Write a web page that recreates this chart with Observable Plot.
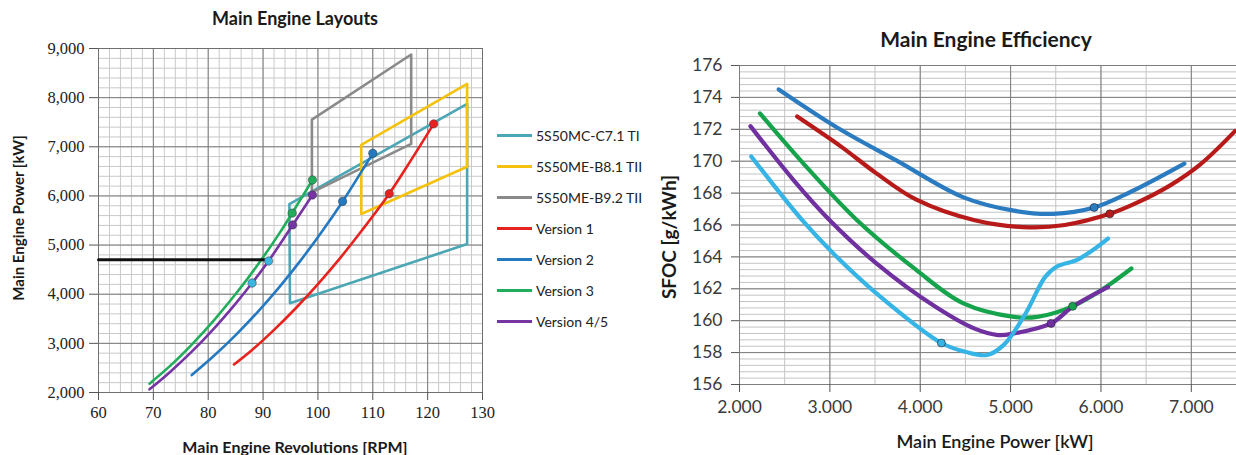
<!DOCTYPE html>
<html>
<head>
<meta charset="utf-8">
<script src="https://cdn.jsdelivr.net/npm/d3@7"></script>
<script src="https://cdn.jsdelivr.net/npm/@observablehq/plot@0.6"></script>
<style>
  html, body { margin: 0; padding: 0; background: #fff; }
  #wrap { position: relative; width: 1236px; height: 455px; overflow: hidden; background: #fff; }
  #wrap svg { position: absolute; top: 0; }
  .t { position: absolute; white-space: nowrap; color: #1a1a1a; font-family: Lato, "Open Sans", sans-serif; }
  .legend { position: absolute; left: 497px; top: 0; font-family: Lato, sans-serif; font-size: 14px; color: #222; }
  .legend .row { position: absolute; left: 0; display: flex; align-items: center; white-space: nowrap; }
  .legend .sw { width: 35px; height: 3px; margin-right: 4px; }
</style>
</head>
<body>
<div id="wrap"></div>
<script>
// ---------- Left chart: Main Engine Layouts ----------
const leftTitle = "Main Engine Layouts";
const leftXLabel = "Main Engine Revolutions [RPM]";
const leftYLabel = "Main Engine Power [kW]";
const rpmTicks = [60, 70, 80, 90, 100, 110, 120, 130];
const kwTicks = [2000, 3000, 4000, 5000, 6000, 7000, 8000, 9000];

const layoutNames = ["5S50MC-C7.1 TI", "5S50ME-B8.1 TII", "5S50ME-B9.2 TII", "Version 1", "Version 2", "Version 3", "Version 4/5"];
const layoutColors = ["#4ba6b6", "#f4c20d", "#8a8a8a", "#e8231f", "#2479c0", "#22ad5c", "#7535a2"];

// engine layout diagrams (rpm, kW)
const mcC71Rpm = [94.8, 127.2, 127.2, 94.9, 94.8];
const mcC71Kw  = [5835, 7873, 5020, 3818, 5835];
const meB81Rpm = [107.9, 127.2, 127.2, 107.9, 107.9];
const meB81Kw  = [7037, 8281, 6595, 5632, 7037];
const meB92Rpm = [98.9, 98.9, 117, 117, 98.9];
const meB92Kw  = [6071, 7553, 8878, 7058, 6071];

// propeller curves (rpm, kW)
const v1Rpm = [84.7, 88, 92, 96, 100, 104, 108, 113, 117, 121.1];
const v1Kw  = [2570, 2865, 3274, 3719, 4204, 4729, 5296, 6045, 6733, 7466];
const v2Rpm = [77, 81, 85, 89, 93, 97, 101, 104.5, 110];
const v2Kw  = [2355, 2742, 3168, 3637, 4150, 4709, 5316, 5888, 6867];
const v3Rpm = [69.3, 73, 77, 81, 85, 89, 93, 95.3, 99];
const v3Kw  = [2180, 2536, 2976, 3464, 4003, 4595, 5243, 5650, 6324];
const v45Rpm = [69.3, 73, 77, 81, 85, 88, 91, 95.4, 99];
const v45Kw  = [2065, 2414, 2832, 3297, 3810, 4227, 4675, 5410, 6019];

// required power line
const reqRpm = [60, 90.6];
const reqKw  = [4700, 4700];

// markers on the left chart
const markRpm = [113, 121.1, 104.5, 110, 95.3, 99, 95.4, 99, 88, 91];
const markKw  = [6045, 7466, 5888, 6867, 5650, 6324, 5410, 6019, 4227, 4675];
const markFill = ["#e8231f", "#e8231f", "#2479c0", "#2479c0", "#22ad5c", "#22ad5c", "#7535a2", "#7535a2", "#3db5e2", "#3db5e2"];

// ---------- Right chart: Main Engine Efficiency ----------
const rightTitle = "Main Engine Efficiency";
const rightXLabel = "Main Engine Power [kW]";
const rightYLabel = "SFOC [g/kWh]";
const powerTicks = [2000, 3000, 4000, 5000, 6000, 7000];
const sfocTicks = [156, 158, 160, 162, 164, 166, 168, 170, 172, 174, 176];

const cyanKw   = [2130, 2694, 3041, 3518, 4234, 4500, 4740, 4927, 5166, 5383, 5513, 5730, 5903, 6077];
const cyanSfoc = [170.3, 166.3, 164.2, 161.7, 158.6, 158.05, 157.85, 158.5, 160.45, 162.75, 163.4, 163.8, 164.4, 165.15];
const purpleKw   = [2121, 2600, 2998, 3518, 4169, 4602, 4862, 5036, 5448, 5686, 6077];
const purpleSfoc = [172.2, 168.8, 166.3, 163.58, 160.87, 159.5, 159.1, 159.2, 159.83, 160.87, 162.1];
const greenKw   = [2226, 2700, 3301, 3952, 4472, 5036, 5296, 5686, 6000, 6337];
const greenSfoc = [173.0, 169.9, 166.3, 163.2, 161.1, 160.24, 160.24, 160.9, 161.9, 163.27];
const blueKw   = [2434, 3084, 3735, 4472, 5036, 5470, 5925, 6337, 6923];
const blueSfoc = [174.5, 172.1, 170.05, 167.75, 166.9, 166.7, 167.1, 168.1, 169.85];
const redKw   = [2638, 3128, 3500, 3952, 4602, 5209, 5600, 6098, 6400, 6771, 7100, 7486];
const redSfoc = [172.8, 170.9, 169.3, 167.6, 166.3, 165.85, 166.0, 166.7, 167.4, 168.5, 169.8, 171.9];

const effMarkKw   = [4234, 5448, 5686, 5925, 6098];
const effMarkSfoc = [158.6, 159.83, 160.9, 167.1, 166.7];
const effMarkFill = ["#35b4e5", "#7030a0", "#15a34c", "#2a7bc0", "#b81a1a"];
const effColors = { cyan: "#35b4e5", purple: "#7030a0", green: "#15a34c", blue: "#2a7bc0", red: "#b81a1a" };

// ---------- build ----------
const zip = (xs, ys) => xs.map((x, i) => ({x, y: ys[i]}));
const wrap = document.getElementById("wrap");

const leftSeries = [
  {d: zip(mcC71Rpm, mcC71Kw), c: layoutColors[0], curve: "linear"},
  {d: zip(meB92Rpm, meB92Kw), c: layoutColors[2], curve: "linear"},
  {d: zip(meB81Rpm, meB81Kw), c: layoutColors[1], curve: "linear"},
  {d: zip(v2Rpm, v2Kw), c: layoutColors[4], curve: "catmull-rom"},
  {d: zip(v1Rpm, v1Kw), c: layoutColors[3], curve: "catmull-rom"},
  {d: zip(v45Rpm, v45Kw), c: layoutColors[6], curve: "catmull-rom"},
  {d: zip(v3Rpm, v3Kw), c: layoutColors[5], curve: "catmull-rom"}
];
const leftMarks = markRpm.map((x, i) => ({x, y: markKw[i], f: markFill[i]}));
const serif = "'Liberation Serif', 'DejaVu Serif', serif";

const left = Plot.plot({
  width: 505, height: 455,
  marginLeft: 98, marginRight: 23, marginTop: 48, marginBottom: 63,
  x: {domain: [60, 130]},
  y: {domain: [2000, 9000]},
  style: {fontFamily: serif, fontSize: "16px", color: "#222", background: "transparent"},
  marks: [
    Plot.ruleX(d3.range(60, 131, 2), {stroke: "#c9c9c9", strokeWidth: 1}),
    Plot.ruleY(d3.range(2000, 9001, 200), {stroke: "#c9c9c9", strokeWidth: 1}),
    Plot.ruleX(rpmTicks, {stroke: "#7d7d7d", strokeWidth: 1}),
    Plot.ruleY(kwTicks, {stroke: "#7d7d7d", strokeWidth: 1}),
    Plot.frame({stroke: "#6f6f6f"}),
    Plot.axisX({ticks: rpmTicks, tickSize: 8, tickPadding: 6, label: null, stroke: "#555", fontFamily: serif, fontSize: 16.5}),
    Plot.axisY({ticks: kwTicks, tickFormat: d3.format(","), tickSize: 9, tickPadding: 5, label: null, stroke: "#555", fontFamily: serif, fontSize: 16.5}),
    ...leftSeries.map(s => Plot.line(s.d, {x: "x", y: "y", stroke: s.c, strokeWidth: 2.6, curve: s.curve, strokeLinejoin: "round"})),
    Plot.line(zip(reqRpm, reqKw), {x: "x", y: "y", stroke: "#111", strokeWidth: 3}),
    Plot.dot(leftMarks, {x: "x", y: "y", fill: "f", stroke: "#333", strokeOpacity: 0.5, strokeWidth: 1, r: 4.2})
  ]
});
left.style.left = "0px";
wrap.appendChild(left);

const rightSeries = [
  {d: zip(redKw, redSfoc), c: effColors.red},
  {d: zip(blueKw, blueSfoc), c: effColors.blue},
  {d: zip(greenKw, greenSfoc), c: effColors.green},
  {d: zip(purpleKw, purpleSfoc), c: effColors.purple},
  {d: zip(cyanKw, cyanSfoc), c: effColors.cyan}
];
const rightMarks = effMarkKw.map((x, i) => ({x, y: effMarkSfoc[i], f: effMarkFill[i]}));
const sans = "Lato, 'Open Sans', sans-serif";

const right = Plot.plot({
  width: 596, height: 455,
  marginLeft: 99, marginRight: 0, marginTop: 65, marginBottom: 71,
  x: {domain: [2000, 7500]},
  y: {domain: [156, 176]},
  style: {fontFamily: sans, fontSize: "17px", color: "#3a3a3a", background: "transparent"},
  marks: [
    Plot.ruleX(d3.range(2000, 7501, 500), {stroke: "#c4c4c4", strokeWidth: 1}),
    Plot.ruleY(d3.range(156, 176.01, 0.4), {stroke: "#c4c4c4", strokeWidth: 1}),
    Plot.ruleX(powerTicks, {stroke: "#7d7d7d", strokeWidth: 1}),
    Plot.ruleY(sfocTicks, {stroke: "#7d7d7d", strokeWidth: 1}),
    Plot.axisX({ticks: powerTicks, tickFormat: d => d3.format(",")(d).replace(",", "."), tickSize: 8, tickPadding: 8, label: null, stroke: "#555", fontFamily: sans, fontSize: 17.5}),
    Plot.axisY({ticks: sfocTicks, tickSize: 8, tickPadding: 9, label: null, stroke: "#555", fontFamily: sans, fontSize: 17.5}),
    ...rightSeries.map(s => Plot.line(s.d, {x: "x", y: "y", stroke: s.c, strokeWidth: 4.2, curve: "catmull-rom", strokeLinecap: "round", clip: true})),
    Plot.dot(rightMarks, {x: "x", y: "y", fill: "f", stroke: "#223", strokeOpacity: 0.6, strokeWidth: 1, r: 4})
  ]
});
right.style.left = "640px";
wrap.appendChild(right);

// ---------- texts ----------
function text(str, css) {
  const el = document.createElement("div");
  el.className = "t";
  el.textContent = str;
  Object.assign(el.style, css);
  wrap.appendChild(el);
  return el;
}
text(leftTitle, {left: "295px", top: "18px", transform: "translate(-50%,-50%)", fontSize: "18px", fontWeight: "700"});
text(leftXLabel, {left: "295px", top: "446px", transform: "translate(-50%,-50%)", fontSize: "16px", fontWeight: "700"});
text(leftYLabel, {left: "18px", top: "218px", transform: "translate(-50%,-50%) rotate(-90deg)", fontSize: "15px", fontWeight: "700"});
text(rightTitle, {left: "986px", top: "38px", transform: "translate(-50%,-50%)", fontSize: "21px", fontWeight: "700"});
text(rightXLabel, {left: "995px", top: "441px", transform: "translate(-50%,-50%)", fontSize: "18px", fontWeight: "600"});
text(rightYLabel, {left: "668px", top: "237px", transform: "translate(-50%,-50%) rotate(-90deg)", fontSize: "19px", fontWeight: "700"});

// legend for the left chart
const legend = document.createElement("div");
legend.className = "legend";
const legendY = [135, 166, 197, 228, 259, 290, 321];
layoutNames.forEach((name, i) => {
  const row = document.createElement("div");
  row.className = "row";
  row.style.top = (legendY[i] - 10) + "px";
  row.style.height = "20px";
  const sw = document.createElement("div");
  sw.className = "sw";
  sw.style.background = layoutColors[i];
  const lab = document.createElement("span");
  lab.textContent = name;
  row.appendChild(sw);
  row.appendChild(lab);
  legend.appendChild(row);
});
wrap.appendChild(legend);
</script>
</body>
</html>
